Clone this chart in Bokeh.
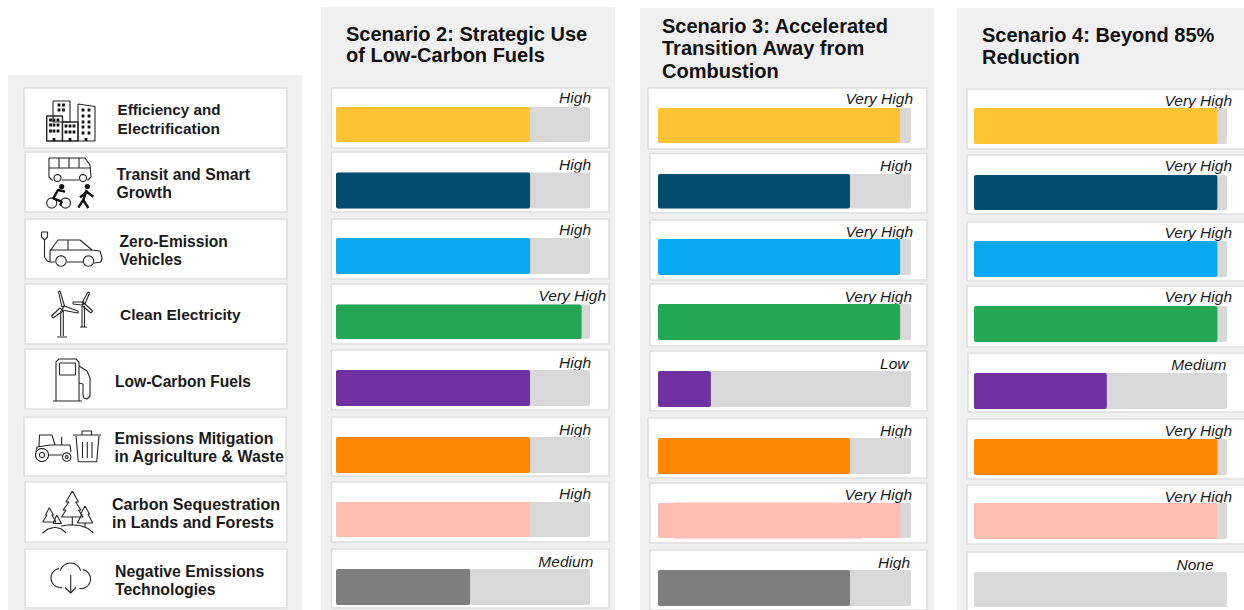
import math
from bokeh.core.properties import value
from bokeh.embed import file_html
from bokeh.models import ColumnDataSource, Range1d
from bokeh.plotting import figure
from bokeh.resources import INLINE

# ---------- data ----------
categories = ["Efficiency and Electrification", "Transit and Smart Growth", "Zero-Emission Vehicles",
              "Clean Electricity", "Low-Carbon Fuels", "Emissions Mitigation in Agriculture & Waste",
              "Carbon Sequestration in Lands and Forests", "Negative Emissions Technologies"]
colors = ["#FFC333", "#034E6E", "#08A8F2", "#22A755", "#7030A0", "#FF8800", "#FFBDB0", "#7F7F7F"]

s2_title = ["Scenario 2: Strategic Use", "of Low-Carbon Fuels"]
s3_title = ["Scenario 3: Accelerated", "Transition Away from", "Combustion"]
s4_title = ["Scenario 4: Beyond 85%", "Reduction"]

s2_levels = ["High", "High", "High", "Very High", "High", "High", "High", "Medium"]
s3_levels = ["Very High", "High", "Very High", "Very High", "Low", "High", "Very High", "High"]
s4_levels = ["Very High", "Very High", "Very High", "Very High", "Medium", "Very High", "Very High", "None"]

s2_values = [76.4, 76.4, 76.4, 96.7, 76.4, 76.4, 76.4, 52.8]
s3_values = [95.7, 75.9, 95.7, 95.7, 20.9, 75.9, 95.7, 75.9]
s4_values = [96.2, 96.2, 96.2, 96.2, 52.5, 96.2, 96.2, 0.0]

# ---------- layout (pixels of the picture) ----------
W, H = 1244, 610
X0, X1, Y0, Y1 = 0.5, 1244.5, 0.5, 610.5
PANEL = "#F0F0F0"; EDGE = "#DEDEDE"; TRACK = "#D8D8D8"; INK = "#1A1A1A"; ICON = "#262626"
FONT = value("Liberation Sans")

p = figure(width=W, height=H, x_range=Range1d(X0, X1), y_range=Range1d(Y1, Y0),
           output_backend="svg", toolbar_location=None, min_border=0, outline_line_color=None,
           background_fill_color="white", border_fill_color="white")
p.axis.visible = False
p.grid.visible = False

# panels
p.quad(left=[8, 321, 640, 957], right=[302, 615, 934, 1250], top=[75, 7, 8, 8], bottom=[620] * 4,
       fill_color=PANEL, line_color=None)


def boxes(lefts, rights, tops, bottoms):
    p.quad(left=lefts, right=rights, top=tops, bottom=bottoms, fill_color="white",
           line_color=EDGE, line_width=1.6)


# label column
boxes([24, 25, 25, 25, 25, 24, 25, 25], [287, 287, 287, 287, 287, 286, 287, 287],
      [88, 152, 219, 284, 349, 417, 482, 549], [148, 212, 279, 344, 409, 476, 542, 608])

row_lines = [("Efficiency and", 117.5, 109.5, 15.2), ("Electrification", 117.5, 128.5, 15.5),
             ("Transit and Smart", 116.5, 174.5, 15.8), ("Growth", 116.5, 192.5, 15.8),
             ("Zero-Emission", 119.5, 241.5, 15.6), ("Vehicles", 119.5, 259.5, 15.6),
             ("Clean Electricity", 120, 314.5, 15.5),
             ("Low-Carbon Fuels", 115, 381.5, 15.6),
             ("Emissions Mitigation", 114.5, 438.7, 15.9), ("in Agriculture & Waste", 114.5, 456.5, 15.9),
             ("Carbon Sequestration", 112, 503.5, 16.1), ("in Lands and Forests", 112, 521.5, 16.1),
             ("Negative Emissions", 115, 571.5, 15.8), ("Technologies", 115, 589.5, 15.8)]
p.text(x=[r[1] for r in row_lines], y=[r[2] for r in row_lines], text=[r[0] for r in row_lines],
       text_font_size=[f"{r[3]}px" for r in row_lines], text_font=FONT, text_font_style="bold",
       text_baseline="middle", text_align="left", text_color=INK)

scenarios = [
    dict(key="s2", levels=s2_levels, vals=s2_values, title=s2_title,
         title_x=346, title_y=[33.5, 55], tx0=336, tx1=590,
         bl=[331.5] * 8, br=[609] * 8,
         bt=[88, 152, 219, 284, 350, 417, 482, 549], bb=[148, 212, 279, 344, 410, 476, 542, 608],
         ft=[107, 172.5, 238, 304.5, 370, 437, 502, 569], fb=[142, 208.5, 274, 339, 406, 473, 537, 605],
         lx=[591, 591, 591, 606, 591, 591, 591, 593.5],
         ly=[97.4, 164.4, 229.4, 295.4, 362.4, 429.4, 493.4, 561.4]),
    dict(key="s3", levels=s3_levels, vals=s3_values, title=s3_title,
         title_x=662, title_y=[26, 47.5, 71], tx0=658, tx1=911,
         bl=[648, 650, 650, 650, 650, 648, 650, 650], br=[927] * 8,
         bt=[88, 153.5, 220, 284, 351, 418, 483, 550], bb=[149, 213, 280, 346, 411, 478, 543, 610],
         ft=[108, 174, 239, 304, 371, 438, 503, 570], fb=[143, 208.5, 275, 340, 407, 474, 538, 606],
         lx=[913, 912, 913, 912, 908.5, 912, 912, 910],
         ly=[98.4, 165.4, 231.4, 296.4, 363.4, 430.4, 494.4, 562.4]),
    dict(key="s4", levels=s4_levels, vals=s4_values, title=s4_title,
         title_x=982, title_y=[35, 57], tx0=974, tx1=1227,
         bl=[967, 967, 967, 967, 968, 967, 967, 967], br=[1250] * 8,
         bt=[89, 155, 222, 286, 353, 419, 485, 552], bb=[149, 214, 281, 347, 412, 479, 544, 616],
         ft=[108, 175, 241, 306, 373, 439, 503, 572], fb=[144, 210, 277, 342, 409, 475, 539, 607],
         lx=[1232] * 4 + [1226.5, 1232, 1232, 1213.5],
         ly=[100.4, 165.4, 232.4, 296.4, 364.4, 430.4, 496.4, 564.4]),
]

for s in scenarios:
    boxes(s["bl"], s["br"], s["bt"], s["bb"])
    # a range per scenario, so that 0..100 lands on the grey track
    span = (s["tx1"] - s["tx0"]) / 100
    p.extra_x_ranges[s["key"]] = Range1d((X0 - s["tx0"]) / span, (X1 - s["tx0"]) / span)
    p.text(x=s["lx"], y=s["ly"], text=s["levels"], text_font=FONT, text_font_style="italic",
           text_font_size="15.5px", text_align="right", text_baseline="middle", text_color=INK)
    p.quad(left=[0] * 8, right=[100] * 8, top=s["ft"], bottom=s["fb"], x_range_name=s["key"],
           fill_color=TRACK, line_color=None, border_radius=2)
    if s["key"] == "s3":
        p.quad(left=[674], right=[862], top=[502.6], bottom=[538.4], fill_color="#F8BAAE", line_color=None)
    src = ColumnDataSource(dict(l=[0] * 8, r=s["vals"], t=s["ft"], b=s["fb"], c=colors))
    p.quad(left="l", right="r", top="t", bottom="b", source=src, x_range_name=s["key"],
           fill_color="c", line_color=None, border_radius=2)
    p.text(x=[s["title_x"]] * len(s["title"]), y=s["title_y"], text=s["title"], text_font=FONT,
           text_font_style="bold", text_font_size="20px", text_baseline="middle", text_color="#111111")


# ---------- icons ----------
def arc(cx, cy, r, a0=0, a1=360, n=28):
    return [(cx + r * math.cos(math.radians(a0 + (a1 - a0) * i / n)),
             cy + r * math.sin(math.radians(a0 + (a1 - a0) * i / n))) for i in range(n + 1)]


thin = []
white_fill = []


def line(*pts):
    thin.append(list(pts))


def closed(*pts):
    thin.append(list(pts) + [pts[0]])


# buildings
closed((53, 101), (70, 101), (70, 122), (53, 122))
closed((78, 104), (95, 106.5), (95, 141), (78, 141))
white_fill.append(([46.7, 62.5, 62.5, 46.7], [116, 116, 141, 141]))
white_fill.append(([62.5, 78, 78, 62.5], [122, 122, 141, 141]))
sq = [(59, 105), (63.5, 105), (59, 110), (63.5, 110)]
sq += [(x, y) for x in (50.5, 54, 58) for y in (120, 125, 131)]
sq += [(x, y) for x in (66, 70, 74) for y in (126, 132)]
sq += [(x, y) for x in (83, 89) for y in (110, 116, 122, 127, 133)]
door = [(54, 138), (70, 138), (86, 138)]

# bus
line((49, 158), (85, 158), (90, 165), (91, 177), (88, 180), (87, 180))
line((49, 158), (49, 177), (52, 180), (53, 180))
line((62, 180), (79, 180))
line((49, 168), (90, 168))
for x in (59, 69, 79):
    line((x, 158), (x, 168))
thin += [arc(57.5, 178, 3.5), arc(83, 178, 3.5)]
# bicycle wheels
thin += [arc(51.7, 203, 5), arc(65.5, 203, 5)]
# car
line((50, 262), (50, 251), (58, 240), (80, 240), (92, 250), (100, 251), (102, 258), (101, 262), (94, 263))
line((50, 262), (55, 262))
line((67, 262), (83, 262))
line((50, 250), (92, 250))
line((68, 240), (68, 250))
thin += [arc(61, 261, 5.2), arc(88.5, 261, 5.2)]
line((44.5, 240), (44.5, 257), (47, 261), (50, 262))
line((41.5, 232), (41.5, 237), (44.5, 240), (47.5, 237), (47.5, 232), (41.5, 232))
# turbines
closed((62, 307), (58.5, 292), (60, 291), (64.5, 306))
closed((60, 308), (51.5, 316), (53, 318), (63, 311))
closed((64, 306), (78, 311), (78, 313), (62, 310))
line((60.7, 311), (60.7, 336))
line((63.3, 311), (63.3, 336))
line((57, 337), (67, 337))
closed((82, 303), (88, 292), (89.5, 293), (85, 304))
closed((82, 305), (73, 304), (73, 302), (84, 302))
closed((84, 303), (92.5, 311), (91, 313), (82.5, 306))
line((82, 306), (82, 327))
line((84.5, 306), (84.5, 327))
line((80, 327), (87, 327))
# fuel pump
line((56, 401), (56, 362), (59, 359), (76, 359), (79, 362), (79, 401))
closed((59.5, 363), (75.5, 363), (75.5, 375), (59.5, 375))
line((53, 401), (82, 401))
line((79, 366), (87, 371), (90, 378), (90, 396), (87, 399), (84, 398), (83, 395), (83, 384), (79, 383))
# tractor
thin += [arc(42, 455, 6.5), arc(42, 455, 2.6), arc(66.7, 457, 4.2), arc(66.7, 457, 1.4)]
line((39, 447), (39.5, 435), (52, 435), (55, 445))
line((36, 452), (37, 447), (50, 445), (70, 445), (71, 452))
line((49, 455), (62, 455))
line((61.7, 437), (61.7, 445))
# bin
line((73, 435), (101, 435))
line((82, 435), (82, 431), (91.5, 431), (91.5, 435))
line((76, 436), (78.3, 461.7), (96.7, 461.7), (99, 436))
for x in (82.5, 87.3, 92):
    line((x, 442), (x, 458))
# trees
line((72.3, 491), (66, 502), (69, 502), (63, 510), (66, 510), (61.5, 517), (83, 517), (78.5, 510),
     (81, 510), (75.5, 502), (78.5, 502), (72.3, 491))
line((72.3, 517), (72.3, 525))
line((49.3, 507.7), (45.5, 515), (47, 515), (42.7, 522), (56, 522), (52, 515), (53.5, 515), (49.3, 507.7))
line((56.7, 515), (53, 523.5), (61.5, 523.5), (56.7, 515))
line((85, 506), (80.5, 514), (82, 514), (77.3, 523), (92.7, 523), (88, 514), (89.5, 514), (85, 506))
line((85, 523), (85, 527))
line((42.3, 533.3), (48, 529), (55, 527.3), (61, 528.7), (66, 532.7))
line((61, 526), (70, 524.7), (80, 525.5), (88, 528.5), (93.3, 532.7))
# cloud
thin.append(arc(60.5, 578, 9.5, 80, 262))
thin.append(arc(70.5, 573.5, 10.5, 195, 345))
thin.append(arc(81, 579, 9.5, 280, 460))
line((70.7, 575), (70.7, 593))
line((65, 587.5), (70.7, 593), (76, 587.5))

for xs, ys in white_fill:
    p.patch(xs, ys, fill_color="white", line_color=ICON, line_width=1.4)
p.multi_line([[a for a, _ in t] for t in thin], [[b for _, b in t] for t in thin],
             line_color=ICON, line_width=1.1)
p.quad(left=[x - 1.4 for x, _ in sq], right=[x + 1.4 for x, _ in sq],
       top=[y - 1.4 for _, y in sq], bottom=[y + 1.4 for _, y in sq], fill_color="#111111", line_color=None)
p.quad(left=[x - 1.4 for x, _ in door], right=[x + 1.4 for x, _ in door],
       top=[y for _, y in door], bottom=[y + 3 for _, y in door], fill_color="#111111", line_color=None)
# cyclist and walker, drawn with heavy strokes
p.multi_line([[65, 58, 53.3, 61.7, 60], [86.7, 83.3, 78.3], [83.3, 88.3], [93.3, 86.7, 80]],
             [[191.7, 190, 198.3, 201.7, 205.5], [190, 200, 207.5], [200, 208], [196.7, 191.7, 197.3]],
             line_color="#111111", line_width=2.4)
p.scatter(x=[61.7, 87.3], y=[186.7, 186.5], size=5.2, marker="circle", fill_color="#111111", line_color=None)

open("out.html", "w").write(file_html(p, INLINE))
